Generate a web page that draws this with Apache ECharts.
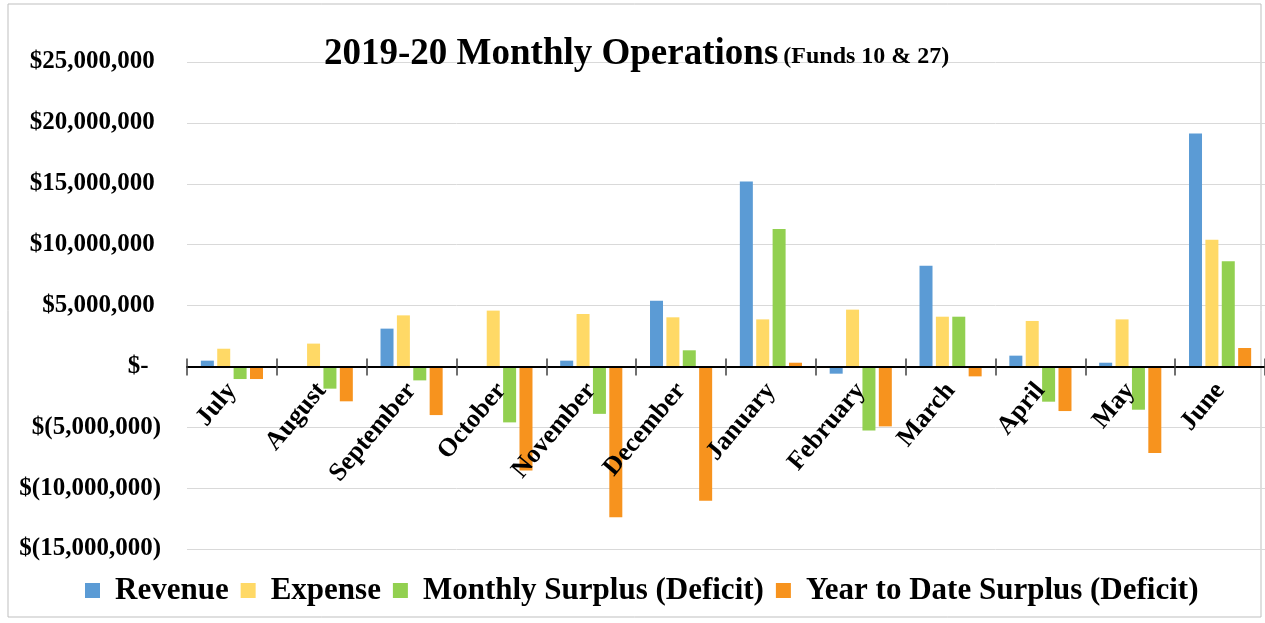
<!DOCTYPE html>
<html>
<head>
<meta charset="utf-8">
<script src="https://cdn.jsdelivr.net/npm/echarts@6/dist/echarts.min.js"></script>
<style>
  html, body { margin: 0; padding: 0; background: #fff; }
  #chart { width: 1265px; height: 623px; }
</style>
</head>
<body>
<div id="chart"></div>
<script>
// data (dollars)
const months = ['July', 'August', 'September', 'October', 'November', 'December',
  'January', 'February', 'March', 'April', 'May', 'June']
const revenue = [470000, 0, 3100000, 0, 470000, 5400000, 15180000, -600000, 8270000, 880000, 300000, 19120000]
const expense = [1450000, 1870000, 4190000, 4580000, 4300000, 4030000, 3860000, 4660000, 4080000, 3730000, 3860000, 10410000]
const monthlySurplus = [-1040000, -1830000, -1150000, -4600000, -3900000, 1320000, 11290000, -5260000, 4080000, -2900000, -3560000, 8630000]
const ytdSurplus = [-1040000, -2870000, -4000000, -8550000, -12400000, -11040000, 300000, -4930000, -820000, -3670000, -7120000, 1510000]
const seriesNames = ['Revenue', 'Expense', 'Monthly Surplus (Deficit)', 'Year to Date Surplus (Deficit)']
const colors = ['#5B9BD5', '#FFD966', '#92D050', '#F7931E']

const serif = 'Liberation Serif'
const yMin = -15000000
const yMax = 25000000

// plot box
const H = 623
const gTop = 62
const gBottom = 74
// y pixel of the zero line, so the month axis can sit on it
const zeroY = gTop + (H - gTop - gBottom) * yMax / (yMax - yMin)

function money(v) {
  if (v === 0) return '$-  '
  const s = Math.abs(v).toLocaleString('en-US')
  return v < 0 ? '$(' + s + ')' : '$' + s + ' '
}

const chart = echarts.init(document.getElementById('chart'))

function bar(name, data, i) {
  return {
    name: name,
    type: 'bar',
    data: data,
    barWidth: 13,
    barGap: '26%',
    itemStyle: { color: colors[i] }
  }
}

const hiddenY = (i) => ({
  type: 'value', gridIndex: i, min: 0, max: 1, show: false
})

const tickStyle = { color: '#404040', width: 1.5 }

chart.setOption({
  animation: false,
  color: colors,
  graphic: [{
    type: 'rect',
    shape: { x: 8, y: 4, width: 1253, height: 613 },
    style: { fill: 'none', stroke: '#BFBFBF', lineWidth: 1 },
    z: -10
  }],
  title: {
    text: '{a|2019-20 Monthly Operations} {b|(Funds 10 & 27)}',
    left: 319,
    top: 28,
    textStyle: {
      rich: {
        a: { fontFamily: serif, fontWeight: 'bold', fontSize: 37, color: '#000', lineHeight: 42 },
        b: { fontFamily: serif, fontWeight: 'bold', fontSize: 24, color: '#000', lineHeight: 42, padding: [6, 0, 0, 0] }
      }
    }
  },
  legend: {
    data: seriesNames,
    left: 85,
    top: 575,
    padding: 0,
    itemWidth: 15,
    itemHeight: 15,
    itemGap: 12,
    icon: 'rect',
    textStyle: {
      fontFamily: serif,
      fontWeight: 'bold',
      fontSize: 31,
      color: '#000',
      padding: [0, 0, 0, 10]
    }
  },
  grid: [
    { left: 187, right: 0, top: gTop, bottom: gBottom, outerBoundsMode: 'none', containLabel: false },
    // ends on the zero line: month labels and lower half of ticks
    { left: 187, right: 0, top: gTop, bottom: H - zeroY, outerBoundsMode: 'none', containLabel: false },
    // starts on the zero line: upper half of ticks
    { left: 187, right: 0, top: zeroY, bottom: gBottom, outerBoundsMode: 'none', containLabel: false }
  ],
  xAxis: [{
    type: 'category',
    data: months,
    gridIndex: 0,
    axisLine: { show: false },
    axisTick: { show: false },
    axisLabel: { show: false }
  }, {
    type: 'category',
    data: months,
    gridIndex: 1,
    position: 'bottom',
    axisLine: { show: true, onZero: false, lineStyle: { color: '#000', width: 2 } },
    axisTick: { show: true, interval: 0, alignWithLabel: false, length: 9, lineStyle: tickStyle },
    axisLabel: {
      rotate: 50,
      interval: 0,
      margin: 20,
      fontFamily: serif,
      fontWeight: 'bold',
      fontSize: 26,
      color: '#000'
    },
    z: 5
  }, {
    type: 'category',
    data: months,
    gridIndex: 2,
    position: 'top',
    axisLine: { show: false, onZero: false },
    axisTick: { show: true, interval: 0, alignWithLabel: false, length: 8, lineStyle: tickStyle },
    axisLabel: { show: false },
    z: 5
  }],
  yAxis: [{
    type: 'value',
    gridIndex: 0,
    min: yMin,
    max: yMax,
    interval: 5000000,
    axisLine: { show: false },
    axisTick: { show: false },
    splitLine: { lineStyle: { color: '#D9D9D9', width: 1 } },
    axisLabel: {
      margin: 26,
      fontFamily: serif,
      fontWeight: 'bold',
      fontSize: 25,
      color: '#000',
      formatter: money
    }
  }, hiddenY(1), hiddenY(2)],
  series: [
    bar(seriesNames[0], revenue, 0),
    bar(seriesNames[1], expense, 1),
    bar(seriesNames[2], monthlySurplus, 2),
    bar(seriesNames[3], ytdSurplus, 3)
  ]
})
</script>
</body>
</html>
